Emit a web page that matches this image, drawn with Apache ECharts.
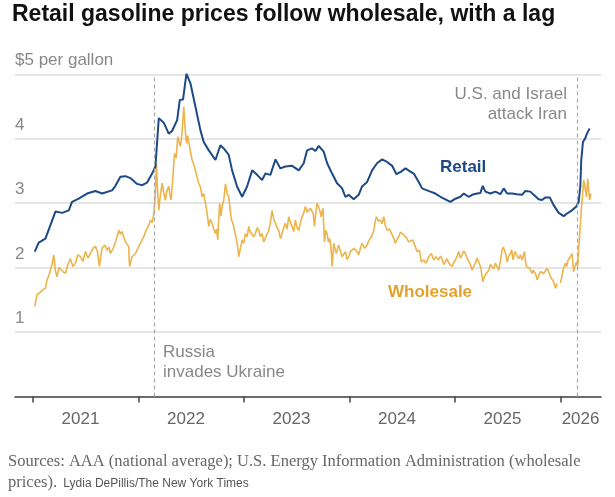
<!DOCTYPE html>
<html>
<head>
<meta charset="utf-8">
<script src="https://cdn.jsdelivr.net/npm/echarts@6/dist/echarts.min.js"></script>
<style>
html,body{margin:0;padding:0;background:#fff;}
#c{width:615px;height:497px;}
</style>
</head>
<body>
<div id="c"></div>
<script>
// ---- Data (x in decimal years, y in $ per gallon) ----
var retailT = [2021.016,2021.054,2021.117,2021.165,2021.212,2021.276,2021.339,2021.370,2021.433,2021.512,2021.591,2021.655,2021.749,2021.781,2021.828,2021.876,2021.923,2021.986,2022.034,2022.081,2022.129,2022.160,2022.192,2022.239,2022.286,2022.318,2022.366,2022.391,2022.422,2022.454,2022.492,2022.539,2022.587,2022.618,2022.666,2022.729,2022.776,2022.808,2022.855,2022.887,2022.934,2022.982,2023.029,2023.077,2023.124,2023.171,2023.203,2023.250,2023.298,2023.345,2023.392,2023.456,2023.519,2023.566,2023.598,2023.645,2023.677,2023.708,2023.755,2023.788,2023.835,2023.882,2023.930,2023.961,2023.993,2024.040,2024.087,2024.119,2024.167,2024.214,2024.261,2024.309,2024.356,2024.404,2024.445,2024.489,2024.530,2024.578,2024.609,2024.656,2024.688,2024.719,2024.766,2024.814,2024.862,2024.909,2024.956,2025.004,2025.051,2025.083,2025.130,2025.162,2025.209,2025.241,2025.263,2025.288,2025.336,2025.383,2025.430,2025.462,2025.494,2025.541,2025.588,2025.636,2025.667,2025.715,2025.746,2025.793,2025.825,2025.857,2025.898,2025.935,2025.983,2026.030,2026.062,2026.109,2026.150,2026.172,2026.188,2026.197,2026.213,2026.235,2026.251,2026.276];
var retailV = [2.25,2.39,2.45,2.66,2.87,2.85,2.89,3.02,3.07,3.15,3.19,3.15,3.20,3.27,3.41,3.42,3.39,3.30,3.28,3.32,3.46,3.57,4.32,4.25,4.08,4.12,4.29,4.60,4.61,5.01,4.86,4.50,4.13,3.95,3.82,3.67,3.90,3.85,3.75,3.51,3.26,3.10,3.26,3.51,3.44,3.36,3.46,3.44,3.68,3.54,3.57,3.58,3.51,3.62,3.82,3.85,3.81,3.89,3.80,3.62,3.46,3.31,3.23,3.10,3.13,3.06,3.13,3.26,3.33,3.51,3.62,3.68,3.64,3.58,3.45,3.49,3.54,3.49,3.46,3.33,3.23,3.21,3.18,3.15,3.10,3.06,3.02,3.07,3.10,3.15,3.10,3.13,3.15,3.16,3.27,3.18,3.15,3.18,3.14,3.23,3.15,3.15,3.14,3.13,3.19,3.18,3.13,3.06,3.05,3.09,3.09,2.97,2.85,2.80,2.84,2.89,2.95,3.02,3.26,3.67,3.95,4.01,4.08,4.16];

// Wholesale: [decimal year, price]; null marks a gap in the data
var wholesale2021 = [[2021.016,1.40],[2021.030,1.52],[2021.038,1.58],[2021.070,1.62],[2021.095,1.66],[2021.117,1.68],[2021.133,1.81],[2021.150,1.88],[2021.165,1.96],[2021.180,2.05],[2021.196,2.20],[2021.212,1.95],[2021.228,1.86],[2021.245,2.00],[2021.260,2.02],[2021.283,1.94],[2021.307,1.91],[2021.330,2.05],[2021.354,2.14],[2021.378,2.02],[2021.402,2.07],[2021.425,2.20],[2021.449,2.17],[2021.473,2.10],[2021.497,2.25],[2021.520,2.15],[2021.544,2.22],[2021.568,2.30],[2021.591,2.33],[2021.610,2.25],[2021.629,2.02],[2021.654,2.30],[2021.680,2.35],[2021.702,2.27],[2021.720,2.32],[2021.733,2.22],[2021.760,2.30],[2021.781,2.40],[2021.800,2.50],[2021.813,2.58],[2021.830,2.52],[2021.844,2.56],[2021.860,2.48],[2021.876,2.40],[2021.892,2.42],[2021.907,2.33],[2021.912,2.10],[2021.917,2.02],[2021.930,2.12],[2021.939,2.17],[2021.955,2.15],[2021.971,2.22],[2021.988,2.28]];
var wholesale2022 = [[2022.002,2.33],[2022.025,2.40],[2022.050,2.48],[2022.065,2.55],[2022.081,2.61],[2022.097,2.66],[2022.113,2.74],[2022.130,2.70],[2022.145,2.84],[2022.158,3.10],[2022.170,3.62],[2022.180,3.20],[2022.192,2.89],[2022.205,3.10],[2022.224,3.31],[2022.240,3.15],[2022.255,3.05],[2022.270,3.20],[2022.287,3.26],[2022.298,3.12],[2022.309,3.05],[2022.325,3.40],[2022.341,3.77],[2022.356,3.70],[2022.372,4.03],[2022.385,3.95],[2022.397,3.88],[2022.413,4.10],[2022.429,4.50],[2022.440,4.20],[2022.454,3.93],[2022.465,4.05],[2022.476,3.95],[2022.492,3.80],[2022.508,3.67],[2022.524,3.60],[2022.539,3.51],[2022.555,3.40],[2022.571,3.31],[2022.587,3.25],[2022.603,3.10],[2022.618,3.15],[2022.634,3.00],[2022.650,2.85],[2022.666,2.64],[2022.680,2.75],[2022.697,2.69],[2022.713,2.60],[2022.729,2.53],[2022.740,2.60],[2022.751,2.43],[2022.760,2.75],[2022.770,3.00],[2022.782,2.80],[2022.792,2.95],[2022.808,3.05],[2022.824,3.30],[2022.840,3.15],[2022.855,3.10],[2022.868,2.90],[2022.881,2.74],[2022.892,2.70],[2022.903,2.64],[2022.914,2.55],[2022.925,2.53],[2022.938,2.35],[2022.950,2.17],[2022.966,2.30],[2022.982,2.43],[2022.997,2.38]];
var wholesale2023 = [[2023.013,2.53],[2023.030,2.48],[2023.045,2.64],[2023.060,2.55],[2023.077,2.58],[2023.092,2.48],[2023.108,2.53],[2023.124,2.62],[2023.140,2.58],[2023.155,2.48],[2023.171,2.53],[2023.187,2.40],[2023.203,2.43],[2023.219,2.52],[2023.235,2.58],[2023.250,2.70],[2023.266,2.89],[2023.282,2.75],[2023.298,2.69],[2023.313,2.62],[2023.329,2.58],[2023.345,2.45],[2023.361,2.53],[2023.376,2.62],[2023.392,2.69],[2023.408,2.60],[2023.424,2.79],[2023.440,2.70],[2023.456,2.64],[2023.471,2.56],[2023.487,2.74],[2023.503,2.62],[2023.519,2.58],[2023.535,2.70],[2023.551,2.79],[2023.566,2.85],[2023.582,2.95],[2023.598,2.86],[2023.614,2.89],[2023.630,2.92],[2023.645,2.90],[2023.656,2.84],[2023.667,2.64],[2023.680,2.85],[2023.693,3.00],[2023.708,3.02],[2023.720,2.88],[2023.730,2.79],[2023.749,2.92],[2023.762,2.40],[2023.775,2.58],[2023.788,2.53],[2023.800,2.40],[2023.813,2.45],[2023.825,2.30],[2023.835,2.02],[2023.851,2.38],[2023.865,2.28],[2023.876,2.22],[2023.887,2.30],[2023.898,2.35],[2023.914,2.25],[2023.930,2.17],[2023.945,2.20],[2023.961,2.25],[2023.977,2.13],[2023.993,2.17]];
var wholesale2024 = [[2024.008,2.25],[2024.024,2.22],[2024.040,2.30],[2024.056,2.33],[2024.072,2.25],[2024.087,2.20],[2024.103,2.30],[2024.119,2.38],[2024.143,2.30],[2024.167,2.35],[2024.183,2.42],[2024.198,2.43],[2024.214,2.50],[2024.230,2.58],[2024.242,2.70],[2024.255,2.79],[2024.274,2.72],[2024.293,2.74],[2024.309,2.68],[2024.325,2.79],[2024.340,2.65],[2024.356,2.58],[2024.380,2.60],[2024.404,2.51],[2024.420,2.45],[2024.435,2.38],[2024.451,2.44],[2024.467,2.48],[2024.482,2.55],[2024.498,2.58],[2024.520,2.50],[2024.545,2.45],[2024.560,2.40],[2024.578,2.38],[2024.600,2.43],[2024.618,2.35],[2024.640,2.25],[2024.662,2.27],[2024.681,2.09],[2024.704,2.12],[2024.726,2.07],[2024.751,2.17],[2024.776,2.22],[2024.798,2.12],[2024.820,2.17],[2024.846,2.12],[2024.862,2.18],[2024.877,2.14],[2024.893,2.05],[2024.909,2.09],[2024.925,2.14],[2024.941,2.07],[2024.956,2.10],[2024.972,2.02],[2024.988,2.08]];
var wholesale2025 = [[2025.004,2.12],[2025.020,2.18],[2025.035,2.25],[2025.051,2.15],[2025.067,2.20],[2025.083,2.26],[2025.098,2.22],[2025.114,2.15],[2025.130,2.12],[2025.146,2.05],[2025.162,1.96],[2025.178,2.02],[2025.193,2.07],[2025.209,2.15],[2025.225,2.12],[2025.245,2.00],[2025.263,1.78],[2025.275,1.84],[2025.288,1.89],[2025.304,1.92],[2025.320,1.96],[2025.336,2.05],[2025.351,2.02],[2025.367,1.98],[2025.383,2.07],[2025.399,2.02],[2025.415,1.96],[2025.430,2.10],[2025.446,2.27],[2025.459,2.32],[2025.472,2.35],[2025.483,2.20],[2025.494,2.09],[2025.510,2.18],[2025.525,2.22],[2025.537,2.28],[2025.550,2.12],[2025.561,2.20],[2025.572,2.25],[2025.588,2.18],[2025.604,2.14],[2025.620,2.20],[2025.636,2.12],[2025.647,2.18],[2025.658,2.25],[2025.668,2.10],[2025.677,2.02],[2025.692,2.05],[2025.708,1.99],[2025.720,1.95],[2025.731,1.91],[2025.742,1.96],[2025.753,1.99],[2025.765,1.90],[2025.778,1.81],[2025.794,1.88],[2025.810,1.94],[2025.825,1.96],[2025.841,1.91],[2025.857,1.95],[2025.873,1.99],[2025.889,1.93],[2025.905,1.86],[2025.920,1.82],[2025.936,1.78],[2025.952,1.68],[2025.968,1.76],[2025.984,null],[2025.999,1.76]];
var wholesale2026 = [[2026.012,1.85],[2026.024,1.96],[2026.035,2.02],[2026.046,2.07],[2026.059,2.02],[2026.072,2.12],[2026.083,2.10],[2026.094,2.17],[2026.110,2.22],[2026.118,2.05],[2026.125,1.94],[2026.138,2.02],[2026.151,2.09],[2026.163,2.02],[2026.172,2.30],[2026.182,2.53],[2026.190,2.70],[2026.197,2.89],[2026.208,3.10],[2026.220,3.36],[2026.232,3.25],[2026.245,3.10],[2026.258,3.38],[2026.268,3.20],[2026.276,3.05],[2026.289,3.15]];

var eventDates = [2022.148, 2026.160];
var yearTicks = [2021, 2022, 2023, 2024, 2025, 2026];
var yearLabelPos = [2021.45, 2022.45, 2023.45, 2024.45, 2025.45, 2026.19];

function zip(a, b) { return a.map(function (x, i) { return [x, b[i]]; }); }
var wholesaleData = [].concat(wholesale2021, wholesale2022, wholesale2023, wholesale2024, wholesale2025, wholesale2026)
  .map(function (p) { return p[1] === null ? [p[0], '-'] : p; });

var chart = echarts.init(document.getElementById('c'));
var sans = 'Liberation Sans, Arial, sans-serif';
var serif = 'Liberation Serif, Georgia, serif';

chart.setOption({
  backgroundColor: '#fff',
  animation: false,
  grid: { left: 15, right: 14, top: 74.3, bottom: 100.4, containLabel: false },
  xAxis: {
    type: 'value',
    min: 2020.829, max: 2026.384,
    axisLine: { show: true, lineStyle: { color: '#444', width: 1.5 } },
    axisTick: { show: true, customValues: yearTicks, length: 6, lineStyle: { color: '#444', width: 1.5 } },
    axisLabel: {
      customValues: yearLabelPos,
      formatter: function (v) { return String(Math.floor(v)); },
      color: '#666', fontSize: 17, fontFamily: sans, margin: 14
    },
    splitLine: { show: false }
  },
  yAxis: {
    type: 'value', min: 0, max: 5, interval: 1,
    axisLine: { show: false }, axisTick: { show: false },
    axisLabel: {
      inside: true, margin: 0,
      formatter: function (v) { return v === 0 ? '' : (v === 5 ? '$5 per gallon' : String(v)); },
      color: '#888', fontSize: 17, fontFamily: sans,
      verticalAlign: 'bottom', padding: [0, 0, 5, 0]
    },
    splitLine: { show: true, lineStyle: { color: '#dcdcdc', width: 1.5 } }
  },
  series: [
    {
      name: 'Wholesale', type: 'line', data: wholesaleData,
      showSymbol: false, connectNulls: false,
      lineStyle: { color: '#ecb44b', width: 1.6 }, itemStyle: { color: '#ecb44b' }, z: 2,
      markLine: {
        silent: true, symbol: 'none', label: { show: false },
        lineStyle: { color: '#aaa', type: [4, 3], width: 1.2 },
        data: eventDates.map(function (d) { return { xAxis: d }; })
      }
    },
    {
      name: 'Retail', type: 'line', data: zip(retailT, retailV),
      showSymbol: false,
      lineStyle: { color: '#1d4a87', width: 2 }, itemStyle: { color: '#1d4a87' }, z: 3
    }
  ],
  graphic: [
    { type: 'text', x: 12, y: 3, style: { text: 'Retail gasoline prices follow wholesale, with a lag', font: 'bold 23px ' + sans, fill: '#111' } },
    { type: 'text', x: 163, y: 342, style: { text: 'Russia\ninvades Ukraine', font: '17px ' + sans, fill: '#888', lineHeight: 20 } },
    { type: 'text', x: 567, y: 84, style: { text: 'U.S. and Israel\nattack Iran', font: '17px ' + sans, fill: '#888', lineHeight: 20, align: 'right' } },
    { type: 'text', x: 440, y: 159, style: { text: 'Retail', font: 'bold 17px ' + sans, fill: '#1d4a87' } },
    { type: 'text', x: 388, y: 284, style: { text: 'Wholesale', font: 'bold 17px ' + sans, fill: '#e5a22a' } },
    { type: 'text', x: 8, y: 453, style: { text: 'Sources: AAA (national average); U.S. Energy Information Administration (wholesale', font: '16.5px ' + serif, fill: '#666' } },
    { type: 'text', x: 8, y: 474, style: {
        text: '{a|prices).} {b|Lydia DePillis/The New York Times}',
        rich: {
          a: { font: '16.5px ' + serif, fill: '#666' },
          b: { font: '12px ' + sans, fill: '#555', padding: [2, 0, 0, 3] }
        }
      } }
  ]
});
</script>
</body>
</html>
